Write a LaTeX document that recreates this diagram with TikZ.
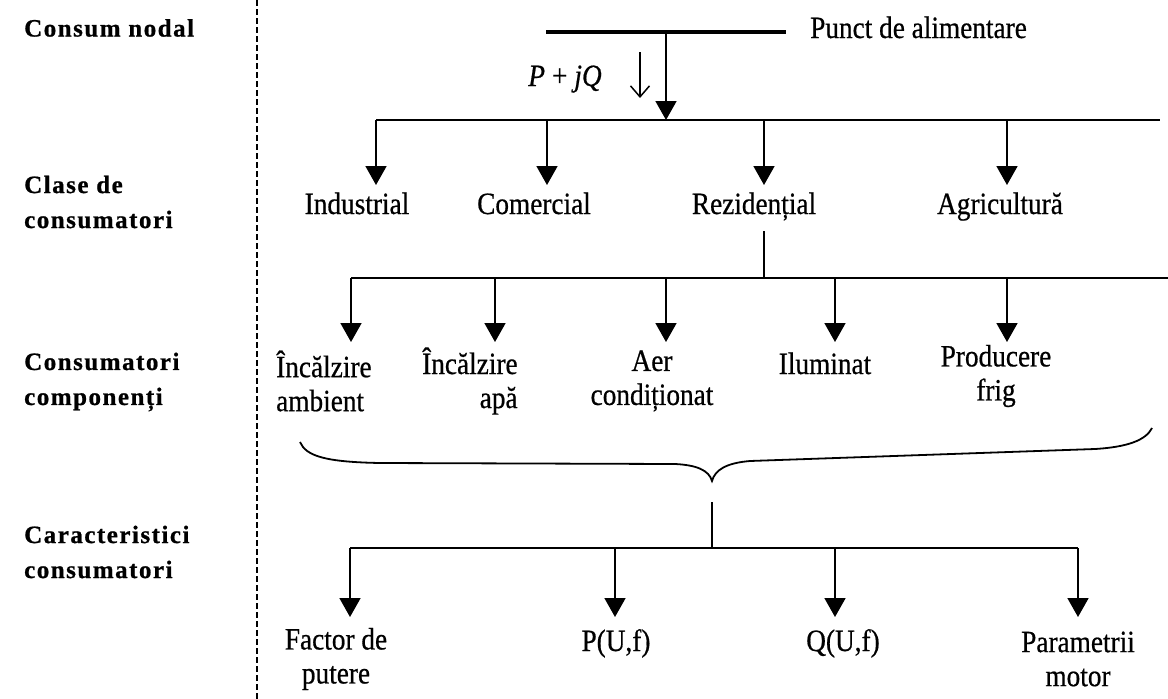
\documentclass[tikz,border=0pt]{standalone}
\usepackage{fontspec}
\setmainfont{Liberation Serif}[FakeStretch=0.88, FakeBold=0.6]
\newfontfamily\lblfont[LetterSpace=6, FakeBold=0.8]{Liberation Serif}
\usetikzlibrary{arrows.meta}
\begin{document}
\begin{tikzpicture}[x=1pt,y=-1pt,
  conn/.style={line width=1.8pt},
  arr/.style={conn,-{Triangle[width=21pt,length=19pt]}},
  lbl/.style={font=\lblfont\bfseries\fontsize{25}{35}\selectfont, align=left, anchor=west, inner sep=0pt},
  txt/.style={font=\fontsize{31}{34}\selectfont, align=center, inner sep=0pt},
  ]
\useasboundingbox (0,0) rectangle (1168,699);
% separator
\coordinate (sepT) at (257,0); \coordinate (sepB) at (257,699);
\draw[dash pattern=on 6pt off 3pt, line width=1.8pt] (sepT) -- (sepB);
% left labels
\node[lbl] (l1) at (24,28) {Consum nodal};
\node[lbl] (l2) at (24,202) {Clase de\\consumatori};
\node[lbl] (l3) at (24,382) {Consumatori\\componenți};
\node[lbl] (l4) at (24,552) {Caracteristici\\consumatori};
% feeding point
\coordinate (busL) at (546,32); \coordinate (busR) at (786,32);
\draw[line width=4.5pt] (busL) -- (busR);
\node[txt, anchor=base west] (punct) at (810,38) {Punct de alimentare};
\coordinate (feed) at (666,32); \coordinate (j1) at (666,120);
\draw[arr] (feed) -- (j1);
\node[txt, anchor=base] (pq) at (565,86) {\textit{P}\hspace{7pt}+\hspace{7pt}\textit{jQ}};
\coordinate (aT) at (640,52); \coordinate (aB) at (640,98);
\draw[line width=1.5pt, -{Straight Barb[length=11pt,width=19pt]}] (aT) -- (aB);
% level 2
\coordinate (h1L) at (376,120); \coordinate (h1R) at (1160,120);
\draw[conn] (h1L) -- (h1R);
\foreach \n/\x in {ind/376, com/547, rez/764, agr/1007}{
  \coordinate (\n-t) at (\x,120); \coordinate (\n-b) at (\x,185);
  \draw[arr] (\n-t) -- (\n-b);
}
\node[txt, anchor=base] (ind) at (357,214) {Industrial};
\node[txt, anchor=base] (com) at (534,214) {Comercial};
\node[txt, anchor=base] (rez) at (754,214) {Rezidențial};
\node[txt, anchor=base] (agr) at (1000,214) {Agricultură};
% level 3
\coordinate (rs1) at (764,231); \coordinate (rs2) at (764,278);
\draw[conn] (rs1) -- (rs2);
\coordinate (h2L) at (351,278); \coordinate (h2R) at (1168,278);
\draw[conn] (h2L) -- (h2R);
\foreach \n/\x in {c1/351, c2/495, c3/666, c4/835, c5/1007}{
  \coordinate (\n-t) at (\x,278); \coordinate (\n-b) at (\x,342);
  \draw[arr] (\n-t) -- (\n-b);
}
\node[txt, align=left, anchor=west] (inc1) at (276,381) {Încălzire\\ambient};
\node[txt, align=right, anchor=west] (inc2) at (422,381) {Încălzire\\apă};
\node[txt] (aer) at (652,381) {Aer\\condiționat};
\node[txt, anchor=base] (ilu) at (825,374) {Iluminat};
\node[txt] (frig) at (996,376) {Producere\\frig};
% brace
\coordinate (brL) at (300,442); \coordinate (brM) at (712,481); \coordinate (brR) at (1152,428);
\draw[line width=1.8pt] (brL) .. controls (306,456) and (325,462) .. (380,463) -- (675,464)
  .. controls (696,465) and (709,470) .. (brM)
  .. controls (715,470) and (726,463) .. (750,461) -- (1095,449)
  .. controls (1128,447) and (1146,440) .. (brR);
% level 4
\coordinate (s1) at (712,502); \coordinate (s2) at (712,548);
\draw[conn] (s1) -- (s2);
\coordinate (h3L) at (350,548); \coordinate (h3R) at (1078,548);
\draw[conn] (h3L) -- (h3R);
\foreach \n/\x in {k1/350, k2/615, k3/835, k4/1078}{
  \coordinate (\n-t) at (\x,548); \coordinate (\n-b) at (\x,617);
  \draw[arr] (\n-t) -- (\n-b);
}
\node[txt] (fp) at (336,659) {Factor de\\putere};
\node[txt, anchor=base] (puf) at (616,651) {P(U,f)};
\node[txt, anchor=base] (quf) at (843,651) {Q(U,f)};
\node[txt] (pm) at (1078,659) {Parametrii\\motor};
\end{tikzpicture}
\end{document}
